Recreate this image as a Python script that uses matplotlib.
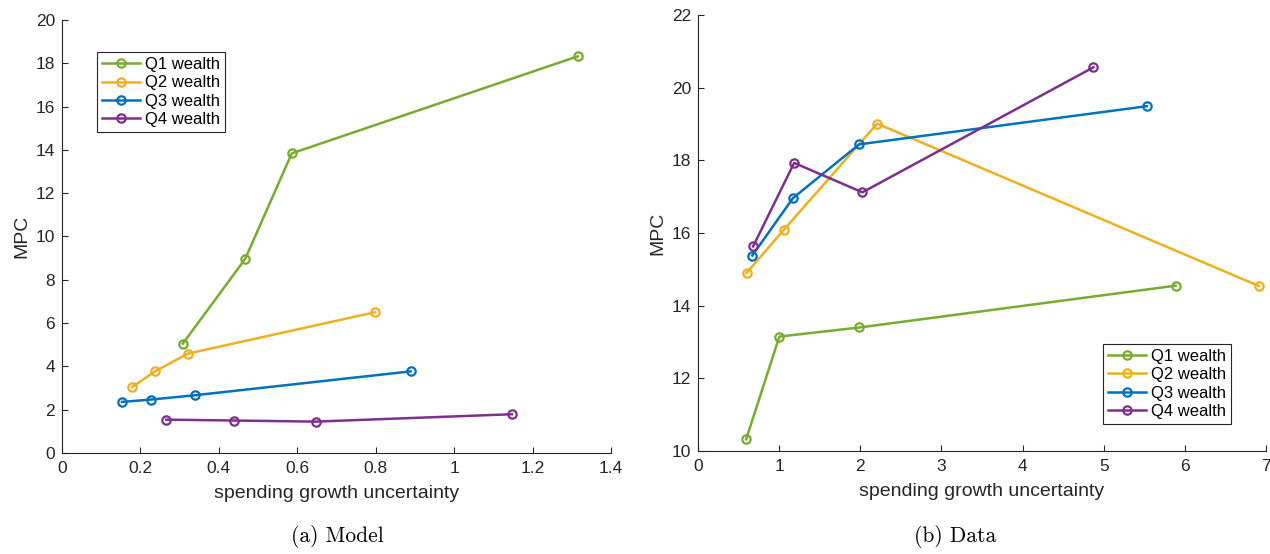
import matplotlib
matplotlib.use("Agg")
import matplotlib.pyplot as plt

labels = ["Q1 wealth", "Q2 wealth", "Q3 wealth", "Q4 wealth"]
colors = ["#77AC30", "#EDB120", "#0072BD", "#7E2F8E"]

# (a) Model
model_x = [
    [0.308, 0.467, 0.586, 1.315],
    [0.179, 0.237, 0.321, 0.798],
    [0.153, 0.228, 0.340, 0.889],
    [0.266, 0.439, 0.647, 1.147],
]
model_y = [
    [5.05, 8.96, 13.84, 18.32],
    [3.04, 3.77, 4.59, 6.50],
    [2.36, 2.47, 2.67, 3.77],
    [1.54, 1.50, 1.45, 1.79],
]

# (b) Data
data_x = [
    [0.593, 1.003, 1.99, 5.886],
    [0.598, 1.059, 2.208, 6.914],
    [0.669, 1.170, 1.986, 5.531],
    [0.679, 1.185, 2.026, 4.873],
]
data_y = [
    [10.32, 13.15, 13.40, 14.55],
    [14.90, 16.09, 19.01, 14.54],
    [15.38, 16.96, 18.44, 19.49],
    [15.63, 17.93, 17.12, 20.56],
]

plt.rcParams['font.family'] = ['Liberation Sans', 'DejaVu Sans']
dark = "#262626"

fig = plt.figure(figsize=(12.7, 5.54), dpi=100)
W, H = 1270, 554
ax1 = fig.add_axes([62 / W, 1 - 453 / H, (611 - 62) / W, (453 - 20) / H])
ax2 = fig.add_axes([698 / W, 1 - 451 / H, (1266 - 698) / W, (451 - 15) / H])


def style(ax):
    for s in ["top", "right"]:
        ax.spines[s].set_visible(False)
    for s in ["left", "bottom"]:
        ax.spines[s].set_color(dark)
        ax.spines[s].set_linewidth(0.8)
    ax.tick_params(direction="in", length=4, width=0.8, colors=dark,
                   labelsize=12.5, labelcolor=dark)
    ax.tick_params(axis="x", pad=6)
    ax.tick_params(axis="y", pad=5)
    ax.set_xlabel("spending growth uncertainty", fontsize=14, color=dark,
                  labelpad=6)
    ax.set_ylabel("MPC", fontsize=14, color=dark, labelpad=4)


legkw = dict(fontsize=12, frameon=True, fancybox=False, edgecolor=dark,
             framealpha=1, handlelength=2.3, handletextpad=0.25,
             borderpad=0.3, labelspacing=0.2, borderaxespad=0)

for xs, ys, c, lab in zip(model_x, model_y, colors, labels):
    ax1.plot(xs, ys, "-o", color=c, lw=1.8, ms=6, mfc="none", mew=1.6, label=lab)
ax1.set_xlim(0, 1.4)
ax1.set_ylim(0, 20)
ax1.set_xticks([0, 0.2, 0.4, 0.6, 0.8, 1.0, 1.2, 1.4])
ax1.set_xticklabels(["0", "0.2", "0.4", "0.6", "0.8", "1", "1.2", "1.4"])
ax1.set_yticks(range(0, 21, 2))
style(ax1)
leg1 = ax1.legend(loc="upper left", bbox_to_anchor=(0.0638, 0.926), **legkw)
leg1.get_frame().set_linewidth(0.8)

for xs, ys, c, lab in zip(data_x, data_y, colors, labels):
    ax2.plot(xs, ys, "-o", color=c, lw=1.8, ms=6, mfc="none", mew=1.6, label=lab)
ax2.set_xlim(0, 7)
ax2.set_ylim(10, 22)
ax2.set_xticks(range(0, 8))
ax2.set_yticks(range(10, 23, 2))
style(ax2)
leg2 = ax2.legend(loc="lower right", bbox_to_anchor=(0.938, 0.062), **legkw)
leg2.get_frame().set_linewidth(0.8)

fig.text(337 / W, 1 - 537 / H, "(a) Model", family="cmr10", fontsize=15.5,
         ha="center", va="center", color="black")
fig.text(955 / W, 1 - 537 / H, "(b) Data", family="cmr10", fontsize=15.5,
         ha="center", va="center", color="black")

fig.savefig("out.png", dpi=100)
